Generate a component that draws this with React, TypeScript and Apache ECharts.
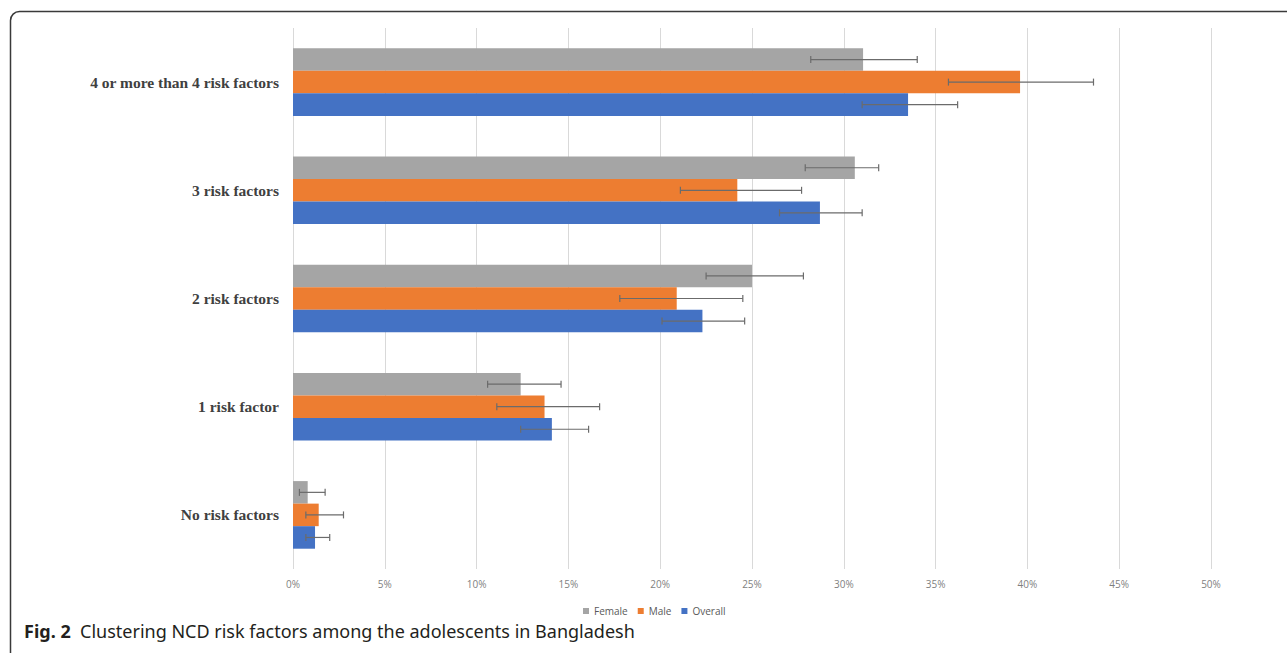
import React, { useEffect, useRef } from "react";
import * as echarts from "echarts";

const categories = [
  "No risk factors",
  "1 risk factor",
  "2 risk factors",
  "3 risk factors",
  "4 or more than 4 risk factors",
];
const xTicks = [0, 5, 10, 15, 20, 25, 30, 35, 40, 45, 50];

const femaleValues = [0.8, 12.4, 25.0, 30.6, 31.05];
const maleValues = [1.4, 13.7, 20.9, 24.2, 39.6];
const overallValues = [1.2, 14.1, 22.3, 28.7, 33.5];

const femaleLow = [0.35, 10.6, 22.5, 27.9, 28.2];
const femaleHigh = [1.75, 14.6, 27.8, 31.9, 34.0];
const maleLow = [0.7, 11.1, 17.8, 21.1, 35.7];
const maleHigh = [2.75, 16.7, 24.5, 27.7, 43.6];
const overallLow = [0.7, 12.4, 20.1, 26.5, 31.0];
const overallHigh = [2.0, 16.1, 24.6, 31.0, 36.2];

const COLORS = { Female: "#A5A5A5", Male: "#ED7D31", Overall: "#4472C4" };
const GAP = 0.375;

// bar order in series list (first series is drawn at the top of each group)
const barOrder = ["Female", "Male", "Overall"];

function errorSeries(name: string, low: number[], high: number[]) {
  const idx = barOrder.indexOf(name);
  return {
    type: "custom",
    name: name + "-err",
    z: 10,
    silent: true,
    data: low.map((l, i) => [i, l, high[i]]),
    renderItem: (params: any, api: any) => {
      const ci = api.value(0);
      const lo = api.coord([api.value(1), ci]);
      const hi = api.coord([api.value(2), ci]);
      const band = api.size([0, 1])[1];
      const total = band * (1 - GAP);
      const bw = total / 3;
      const off = -total / 2 + bw * idx + bw / 2;
      const y = lo[1] + off;
      const st = { stroke: "#6b6b6b", lineWidth: 1.2 };
      return {
        type: "group",
        children: [
          { type: "line", shape: { x1: lo[0], y1: y, x2: hi[0], y2: y }, style: st },
          { type: "line", shape: { x1: lo[0], y1: y - 3.5, x2: lo[0], y2: y + 3.5 }, style: st },
          { type: "line", shape: { x1: hi[0], y1: y - 3.5, x2: hi[0], y2: y + 3.5 }, style: st },
        ],
      };
    },
  };
}

function App() {
  const ref = useRef<HTMLDivElement>(null);
  useEffect(() => {
    document.body.style.margin = "0";
    const chart = echarts.init(ref.current!, null, { renderer: "svg" });
    const valuesMap: any = { Female: femaleValues, Male: maleValues, Overall: overallValues };
    chart.setOption({
      animation: false,
      backgroundColor: "#ffffff",
      grid: { left: 293, right: 76, top: 28, bottom: 84, containLabel: false },
      xAxis: {
        type: "value",
        min: 0,
        max: 50,
        interval: 5,
        axisLine: { show: false },
        axisTick: { show: false },
        splitLine: { show: true, lineStyle: { color: "#d9d9d9", width: 1 } },
        axisLabel: {
          formatter: (v: number) => (xTicks.includes(v) ? v + "%" : ""),
          color: "#7f7f7f",
          fontSize: 10,
          fontFamily: "Open Sans",
          margin: 10,
        },
      },
      yAxis: {
        type: "category",
        data: categories,
        axisLine: { show: false },
        axisTick: { show: false },
        axisLabel: {
          color: "#404040",
          fontSize: 15.5,
          fontWeight: "bold",
          fontFamily: "Liberation Serif",
          margin: 14,
        },
      },
      legend: {
        data: ["Female", "Male", "Overall"],
        left: 578,
        top: 601,
        itemWidth: 6,
        itemHeight: 6,
        itemGap: 10,
        icon: "rect",
        textStyle: { color: "#595959", fontSize: 10, fontFamily: "Open Sans" },
      },
      graphic: [
        {
          type: "rect",
          shape: { x: 10.5, y: 11.5, width: 1400, height: 1000, r: [9, 0, 0, 0] },
          style: { fill: "none", stroke: "#3a3a3a", lineWidth: 1.5 },
          silent: true,
        },
        {
          type: "text",
          left: 24,
          top: 622,
          style: {
            text: "{b|Fig. 2}  Clustering NCD risk factors among the adolescents in Bangladesh",
            fontSize: 18,
            fontFamily: "Noto Sans",
            fill: "#231f20",
            rich: { b: { fontWeight: "bold", fontSize: 18, fontFamily: "Noto Sans", fill: "#231f20" } },
          },
        },
      ],
      series: [
        ...barOrder.map((n) => ({
          type: "bar",
          name: n,
          data: valuesMap[n],
          itemStyle: { color: (COLORS as any)[n] },
          barGap: "0%",
          barCategoryGap: "37.5%",
        })),
        errorSeries("Female", femaleLow, femaleHigh),
        errorSeries("Male", maleLow, maleHigh),
        errorSeries("Overall", overallLow, overallHigh),
      ],
    });
    return () => chart.dispose();
  }, []);
  return (
    <div
      ref={ref}
      style={{ position: "absolute", left: 0, top: 0, width: 1287, height: 653 }}
    />
  );
}

export default App;
